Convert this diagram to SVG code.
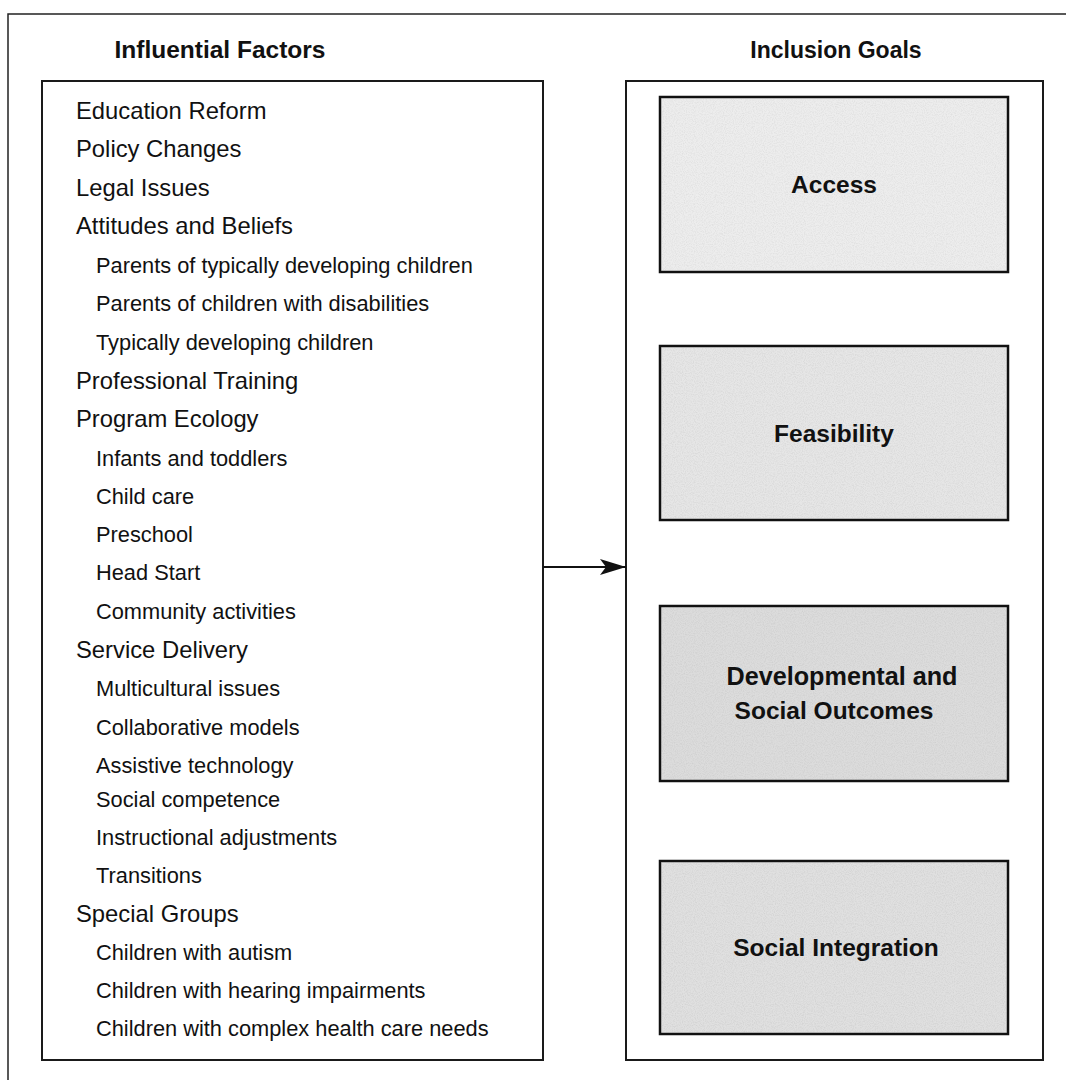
<svg xmlns="http://www.w3.org/2000/svg" width="1066" height="1080" viewBox="0 0 1066 1080">
<style>
.frame{fill:none;stroke:#222;stroke-width:1.5}
.box{fill:#fff;stroke:#1a1a1a;stroke-width:2}
.goal{stroke:#111;stroke-width:2.5}
.head{font-family:"Liberation Sans",Arial,sans-serif;font-weight:bold;font-size:24.5px;fill:#111;text-anchor:middle}
.main{font-family:"Liberation Sans",Arial,sans-serif;font-size:23.8px;fill:#111}
.sub{font-family:"Liberation Sans",Arial,sans-serif;font-size:21.8px;fill:#111}
.gl{font-family:"Liberation Sans",Arial,sans-serif;font-weight:bold;font-size:24.5px;fill:#111;text-anchor:middle}
</style>
<defs>
<marker id="ah" viewBox="0 0 26 16" refX="26" refY="8" markerWidth="26" markerHeight="16" markerUnits="userSpaceOnUse" orient="auto">
<path d="M0,0 L26,8 L0,16 L6,8 Z" fill="#111"/>
</marker>
<filter id="spk" x="0" y="0" width="100%" height="100%">
<feTurbulence type="fractalNoise" baseFrequency="0.9" numOctaves="2" seed="3" result="n"/>
<feColorMatrix in="n" type="matrix" values="0 0 0 0 0.5  0 0 0 0 0.5  0 0 0 0 0.5  0 0 0 -2.2 1.35" result="d"/>
<feComposite in="d" in2="SourceGraphic" operator="in"/>
</filter>
</defs>
<path class="frame" d="M8,1080 L8,14 L1066,14"/>
<text class="head" x="220" y="58">Influential Factors</text>
<text class="head" x="836" y="58" style="font-size:23px">Inclusion Goals</text>
<g id="factors">
<rect class="box" x="42" y="81" width="501" height="979"/>
<text class="main" x="76" y="119">Education Reform</text>
<text class="main" x="76" y="157.3">Policy Changes</text>
<text class="main" x="76" y="195.6">Legal Issues</text>
<text class="main" x="76" y="233.9">Attitudes and Beliefs</text>
<text class="sub" x="96" y="273">Parents of typically developing children</text>
<text class="sub" x="96" y="311.3">Parents of children with disabilities</text>
<text class="sub" x="96" y="349.6">Typically developing children</text>
<text class="main" x="76" y="388.9">Professional Training</text>
<text class="main" x="76" y="427.2">Program Ecology</text>
<text class="sub" x="96" y="465.5">Infants and toddlers</text>
<text class="sub" x="96" y="503.8">Child care</text>
<text class="sub" x="96" y="542.1">Preschool</text>
<text class="sub" x="96" y="580.4">Head Start</text>
<text class="sub" x="96" y="618.7">Community activities</text>
<text class="main" x="76" y="658">Service Delivery</text>
<text class="sub" x="96" y="696.3">Multicultural issues</text>
<text class="sub" x="96" y="734.6">Collaborative models</text>
<text class="sub" x="96" y="772.9">Assistive technology</text>
<text class="sub" x="96" y="807">Social competence</text>
<text class="sub" x="96" y="845">Instructional adjustments</text>
<text class="sub" x="96" y="883">Transitions</text>
<text class="main" x="76" y="922">Special Groups</text>
<text class="sub" x="96" y="960">Children with autism</text>
<text class="sub" x="96" y="998">Children with hearing impairments</text>
<text class="sub" x="96" y="1036">Children with complex health care needs</text>
</g>
<g id="goals">
<rect class="box" x="626" y="81" width="417" height="979"/>
</g>
<g id="access">
<rect class="goal" x="660" y="97" width="348" height="175" fill="#ededed"/>
<rect x="661" y="98" width="346" height="173" fill="#000" filter="url(#spk)" opacity="0.25"/>
<text class="gl" x="834" y="193">Access</text>
</g>
<g id="feasibility">
<rect class="goal" x="660" y="346" width="348" height="174" fill="#e6e6e6"/>
<rect x="661" y="347" width="346" height="172" fill="#000" filter="url(#spk)" opacity="0.3"/>
<text class="gl" x="834" y="442">Feasibility</text>
</g>
<g id="outcomes">
<rect class="goal" x="660" y="606" width="348" height="175" fill="#dcdcdc"/>
<rect x="661" y="607" width="346" height="173" fill="#000" filter="url(#spk)" opacity="0.35"/>
<text class="gl" x="842" y="685" style="font-size:25.2px">Developmental and</text>
<text class="gl" x="834" y="719">Social Outcomes</text>
</g>
<g id="integration">
<rect class="goal" x="660" y="861" width="348" height="173" fill="#e0e0e0"/>
<rect x="661" y="862" width="346" height="171" fill="#000" filter="url(#spk)" opacity="0.35"/>
<text class="gl" x="836" y="956">Social Integration</text>
</g>
<g id="connectors">
<line x1="543" y1="567" x2="626" y2="567" stroke="#111" stroke-width="2" marker-end="url(#ah)"/>
</g>
</svg>
